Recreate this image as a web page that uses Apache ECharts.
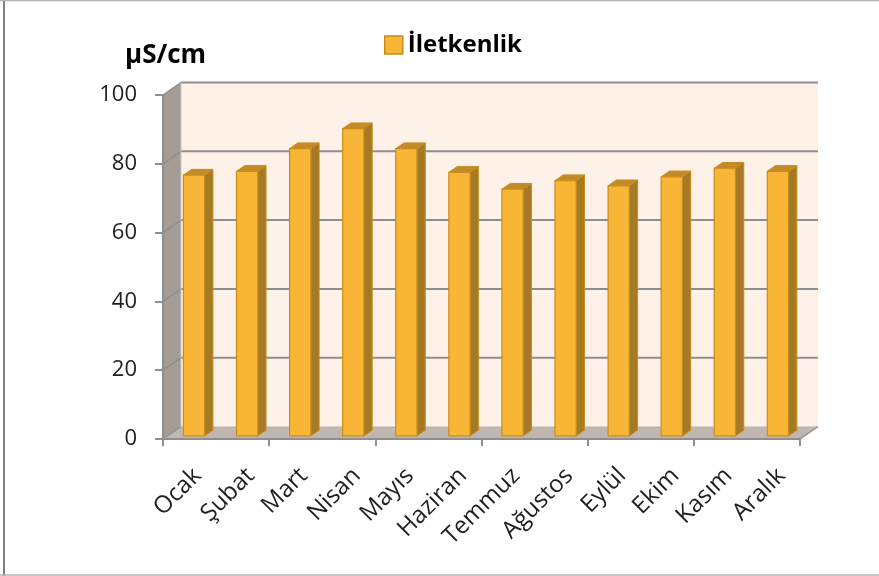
<!DOCTYPE html>
<html>
<head>
<meta charset="utf-8">
<script src="https://cdn.jsdelivr.net/npm/echarts@6/dist/echarts.min.js"></script>
<style>
html,body{margin:0;padding:0;background:#fff;}
#c{width:879px;height:576px;}
</style>
</head>
<body>
<div id="c"></div>
<script>
// ---- data ----
const categories = ['Ocak','Şubat','Mart','Nisan','Mayıs','Haziran','Temmuz','Ağustos','Eylül','Ekim','Kasım','Aralık'];
const iletkenlik = [75.8, 76.9, 83.5, 89.3, 83.5, 76.6, 71.7, 74.2, 72.7, 75.3, 77.8, 76.9];
const seriesName = 'İletkenlik';
const unitLabel = 'µS/cm';
const yMin = 0, yMax = 100, yStep = 20;

// ---- 3D look parameters ----
const DX = 18, DY = -12.5;
const BAR_FRONT = 0.25;
const BAR_DEPTH = 0.46;
const BAR_W = 0.40;
const FONT = '"Open Sans", "DejaVu Sans", sans-serif';
const GRID_COLOR = '#8e8e8e';
const XLABEL_MARGIN = 33, XLABEL_SHIFT = 8, XLABEL_SIZE = 24;

const chart = echarts.init(document.getElementById('c'), null, {renderer: 'canvas'});

function renderWalls(params, api) {
  const cs = params.coordSys;
  const gx = cs.x, gw = cs.width;
  const y0 = api.coord([0, yMin])[1];
  const yT = api.coord([0, yMax])[1];
  const children = [];
  children.push({type: 'polygon', shape: {points: [[gx+DX, yT+DY],[gx+gw+DX, yT+DY],[gx+gw+DX, y0+DY],[gx+DX, y0+DY]]},
    style: {fill: '#fef1e7'}});
  children.push({type: 'polygon', shape: {points: [[gx, yT],[gx+DX, yT+DY],[gx+DX, y0+DY],[gx, y0]]},
    style: {fill: '#a59d95'}});
  children.push({type: 'polygon', shape: {points: [[gx, y0],[gx+gw, y0],[gx+gw+DX, y0+DY],[gx+DX, y0+DY]]},
    style: {fill: '#bfb7af'}});
  for (let v = yMin; v <= yMax; v += yStep) {
    const y = api.coord([0, v])[1];
    if (v > yMin) {
      children.push({type: 'line', shape: {x1: gx+DX, y1: y+DY, x2: gx+gw+DX, y2: y+DY},
        style: {stroke: GRID_COLOR, lineWidth: 2}});
    }
    children.push({type: 'line', shape: {x1: gx, y1: y, x2: gx+DX, y2: y+DY},
      style: {stroke: GRID_COLOR, lineWidth: 1.5}});
  }
  children.push({type: 'line', shape: {x1: gx+DX, y1: yT+DY, x2: gx+DX, y2: y0+DY},
    style: {stroke: '#c8c8c8', lineWidth: 1}});
  children.push({type: 'line', shape: {x1: gx+DX, y1: y0+DY, x2: gx+gw+DX, y2: y0+DY},
    style: {stroke: '#d8d0c8', lineWidth: 1}});
  children.push({type: 'line', shape: {x1: gx+gw, y1: y0, x2: gx+gw+DX, y2: y0+DY},
    style: {stroke: GRID_COLOR, lineWidth: 1.5}});
  return {type: 'group', children: children};
}

function renderBar(params, api) {
  const idx = api.value(0);
  const val = api.value(1);
  const base = api.coord([idx, yMin]);
  const top = api.coord([idx, val]);
  const band = api.size([1, 0])[0];
  const w = band * BAR_W;
  const ox = DX * BAR_FRONT, oy = DY * BAR_FRONT;
  const dx = DX * BAR_DEPTH, dy = DY * BAR_DEPTH;
  const xl = base[0] - w / 2 + ox, xr = xl + w;
  const yb = base[1] + oy, yt = top[1] + oy;
  const stroke = '#c68d1e';
  return {type: 'group', children: [
    {type: 'polygon', shape: {points: [[xr, yt],[xr+dx, yt+dy],[xr+dx, yb+dy],[xr, yb]]},
      style: {fill: '#a67a24', stroke: stroke, lineWidth: 1}},
    {type: 'polygon', shape: {points: [[xl, yt],[xr, yt],[xr+dx, yt+dy],[xl+dx, yt+dy]]},
      style: {fill: '#c28b27', stroke: stroke, lineWidth: 1}},
    {type: 'rect', shape: {x: xl, y: yt, width: w, height: yb - yt},
      style: {fill: '#f9b535', stroke: stroke, lineWidth: 1.2}}
  ]};
}

function renderXLabel(params, api) {
  const idx = api.value(0);
  const p = api.coord([idx, yMin]);
  return {
    type: 'text',
    x: p[0] + XLABEL_SHIFT, y: p[1] + XLABEL_MARGIN,
    rotation: Math.PI / 4,
    style: {
      text: categories[idx], fontFamily: FONT, fontSize: XLABEL_SIZE,
      fill: '#1e1e1e', align: 'right', verticalAlign: 'middle'
    }
  };
}

chart.setOption({
  animation: false,
  backgroundColor: '#ffffff',
  title: {
    text: unitLabel, left: 120, top: 38,
    textStyle: {fontFamily: FONT, fontSize: 26, fontWeight: 'bold', color: '#000'}
  },
  legend: {
    data: [{name: seriesName, icon: 'rect'}],
    left: 379, top: 28,
    itemWidth: 18, itemHeight: 18, itemGap: 5,
    textStyle: {fontFamily: FONT, fontSize: 24, fontWeight: 'bold', color: '#000'},
    itemStyle: {color: '#f9b535', borderColor: '#c68d1e', borderWidth: 1.5}
  },
  grid: {left: 163, right: 79, top: 95, bottom: 137},
  xAxis: {
    type: 'category', data: categories, boundaryGap: true,
    axisLine: {show: true, lineStyle: {color: GRID_COLOR, width: 2}},
    axisTick: {show: true, length: 7, lineStyle: {color: GRID_COLOR, width: 2}},
    axisLabel: {show: false},
    splitLine: {show: false}
  },
  yAxis: {
    type: 'value', min: yMin, max: yMax, interval: yStep,
    axisLine: {show: true, lineStyle: {color: GRID_COLOR, width: 2}},
    axisTick: {show: true, length: 8, lineStyle: {color: GRID_COLOR, width: 2}},
    axisLabel: {fontFamily: FONT, fontSize: 22, color: '#1e1e1e', margin: 26},
    splitLine: {show: false}
  },
  series: [
    {
      type: 'custom', name: 'walls', z: 0, silent: true,
      renderItem: renderWalls, data: [[0, 0]], tooltip: {show: false}
    },
    {
      type: 'custom', name: seriesName, z: 2,
      itemStyle: {color: '#f9b535'},
      renderItem: renderBar,
      encode: {x: 0, y: 1},
      data: iletkenlik.map((v, i) => [i, v])
    },
    {
      type: 'custom', name: 'xlabels', z: 3, silent: true, clip: false,
      renderItem: renderXLabel,
      encode: {x: 0, y: 1},
      data: categories.map((c, i) => [i, yMin])
    }
  ],
  graphic: [
    {type: 'line', shape: {x1: 4, y1: 0, x2: 4, y2: 576}, style: {stroke: '#808080', lineWidth: 2}, z: 10},
    {type: 'line', shape: {x1: 0, y1: 0.5, x2: 879, y2: 0.5}, style: {stroke: '#b4b4b4', lineWidth: 1.5}, z: 10},
    {type: 'line', shape: {x1: 0, y1: 575, x2: 879, y2: 575}, style: {stroke: '#b4b4b4', lineWidth: 1.5}, z: 10}
  ]
});
</script>
</body>
</html>
